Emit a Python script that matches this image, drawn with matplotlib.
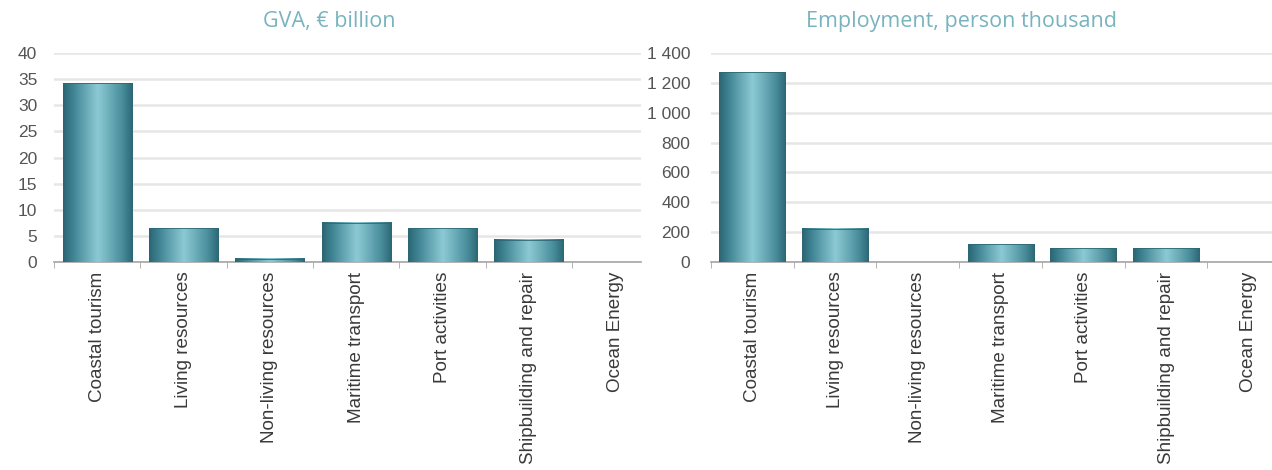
import numpy as np
import matplotlib
matplotlib.use("Agg")
import matplotlib.pyplot as plt
from matplotlib.colors import LinearSegmentedColormap
from matplotlib.ticker import FixedLocator, FuncFormatter

# Data
sectors = ["Coastal tourism", "Living resources", "Non-living resources",
           "Maritime transport", "Port activities", "Shipbuilding and repair",
           "Ocean Energy"]
gva = [34.2, 6.5, 0.6, 7.5, 6.5, 4.3, 0.0]
employment = [1270, 222, 0, 119, 92, 92, 0]

gva_ticks = [0, 5, 10, 15, 20, 25, 30, 35, 40]
emp_ticks = [0, 200, 400, 600, 800, 1000, 1200, 1400]

# teal gradient across each bar
bar_cmap = LinearSegmentedColormap.from_list(
    "teal", [(0.0, "#2b6674"), (0.12, "#3c8090"), (0.5, "#8ccbd5"),
             (0.85, "#4a8e9c"), (1.0, "#2d6977")])
grad = np.linspace(0, 1, 64).reshape(1, -1)

TITLE_COLOR = "#78b4be"
GRID_COLOR = "#e6e6e6"
AXIS_COLOR = "#a6a6a6"


def draw_panel(ax, values, yticks, title, xmax, fmt, ypad):
    n = len(values)
    for i, v in enumerate(values):
        if v <= 0:
            continue
        ax.bar(i, v, width=0.8, color="none", edgecolor="#2d6775",
               linewidth=0.6, zorder=4)
        ax.imshow(grad, extent=(i - 0.4, i + 0.4, 0, v), aspect="auto",
                  cmap=bar_cmap, zorder=3, interpolation="bicubic")

    ax.set_xlim(-0.5, xmax)
    ax.set_ylim(0, yticks[-1])
    ax.set_aspect("auto")

    # grid
    ax.set_yticks(yticks)
    ax.yaxis.set_major_formatter(FuncFormatter(fmt))
    ax.grid(axis="y", color=GRID_COLOR, linewidth=1.8, zorder=0)
    ax.set_axisbelow(True)

    # category axis
    ax.set_xticks(range(n))
    ax.set_xticklabels(sectors, rotation=90, fontsize=13.6,
                       color="#3a3a3a", family="Liberation Sans")
    ax.xaxis.set_minor_locator(FixedLocator(np.arange(-0.5, n + 0.5, 1)))
    ax.tick_params(axis="x", which="major", length=0, pad=7)
    ax.tick_params(axis="x", which="minor", length=4, color=AXIS_COLOR,
                   direction="out")
    ax.tick_params(axis="y", length=0, pad=ypad, labelsize=12.5,
                   labelcolor="#555555")
    for lbl in ax.get_yticklabels():
        lbl.set_family("Liberation Sans")

    for side in ["top", "right", "left"]:
        ax.spines[side].set_visible(False)
    ax.spines["bottom"].set_color(AXIS_COLOR)
    ax.spines["bottom"].set_linewidth(1.2)

    ax.set_title(title, color=TITLE_COLOR, fontsize=15.5,
                 family="Open Sans", pad=19)


W, H = 1272, 470
fig = plt.figure(figsize=(W / 100, H / 100), dpi=100)

bottom = (H - 262) / H
height = 209 / H

ax1 = fig.add_axes([54 / W, bottom, (641 - 54) / W, height])
draw_panel(ax1, gva, gva_ticks, "GVA, \u20ac billion", 6.3,
           lambda v, p: "{:d}".format(int(v)), 12)
ax1.title.set_position((0.469, 1.0))

ax2 = fig.add_axes([711 / W, bottom, (1272 - 711) / W, height])
draw_panel(ax2, employment, emp_ticks, "Employment, person thousand", 6.28,
           lambda v, p: "{:,}".format(int(v)).replace(",", " "), 15)
ax2.title.set_position((0.446, 1.0))

fig.savefig("out.png", dpi=100)
